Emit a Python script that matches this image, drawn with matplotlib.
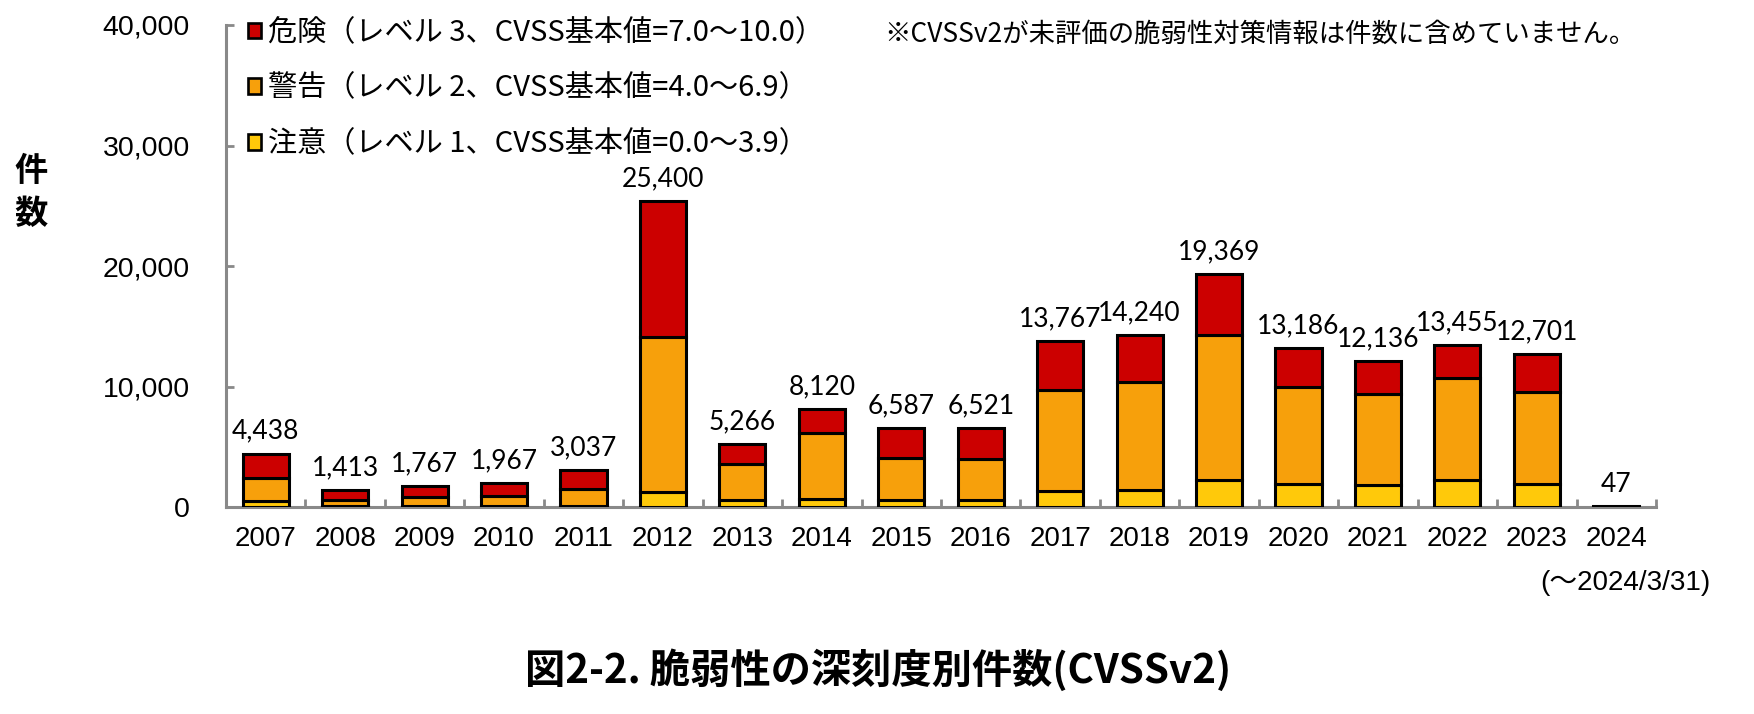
import matplotlib
matplotlib.use("Agg")
import matplotlib.pyplot as plt
from matplotlib.patches import Patch
from matplotlib.ticker import FuncFormatter, FixedLocator

plt.rcParams['font.family'] = ['Liberation Sans', 'Noto Sans CJK JP', 'DejaVu Sans']

years = ['2007', '2008', '2009', '2010', '2011', '2012', '2013', '2014', '2015',
         '2016', '2017', '2018', '2019', '2020', '2021', '2022', '2023', '2024']
caution = [500, 60, 70, 70, 80, 1250, 550, 700, 600, 600, 1300, 1450, 2200, 1900, 1850, 2200, 1900, 2]
warning = [1900, 546, 785, 843, 1390, 12850, 3000, 5400, 3500, 3400, 8450, 8950, 12100, 8100, 7550, 8500, 7650, 30]
danger = [2038, 807, 912, 1054, 1567, 11300, 1716, 2020, 2487, 2521, 4017, 3840, 5069, 3186, 2736, 2755, 3151, 15]
totals = [4438, 1413, 1767, 1967, 3037, 25400, 5266, 8120, 6587, 6521, 13767, 14240, 19369, 13186, 12136, 13455, 12701, 47]

legend_labels = ['危険（レベル 3、CVSS基本値=7.0～10.0）',
                 '警告（レベル 2、CVSS基本値=4.0～6.9）',
                 '注意（レベル 1、CVSS基本値=0.0～3.9）']
note_text = '※CVSSv2が未評価の脆弱性対策情報は件数に含めていません。'
caption = '図2-2. 脆弱性の深刻度別件数(CVSSv2)'
ylabel = '件\n数'
period_note = '(～2024/3/31)'

c_red = '#CC0000'
c_orange = '#F7A00B'
c_yellow = '#FFC90A'
gray = '#898989'

W, H = 1754, 714
fig = plt.figure(figsize=(W / 100, H / 100), dpi=100)
ax = fig.add_axes([226 / W, 1 - 507 / H, (1656 - 226) / W, (507 - 25) / H])

x = list(range(len(years)))
bw = 0.58
lw = 2.2
ax.bar(x, caution, bw, color=c_yellow, edgecolor='black', linewidth=lw, zorder=3)
bottom2 = [a for a in caution]
ax.bar(x, warning, bw, bottom=bottom2, color=c_orange, edgecolor='black', linewidth=lw, zorder=3)
bottom3 = [a + b for a, b in zip(caution, warning)]
ax.bar(x, danger, bw, bottom=bottom3, color=c_red, edgecolor='black', linewidth=lw, zorder=3)

for i, t in enumerate(totals):
    ax.annotate(f'{t:,}', (i, t), xytext=(0, 7), textcoords='offset points',
                ha='center', va='bottom', fontsize=19, family=['Lato', 'DejaVu Sans'])

ax.set_xlim(-0.5, len(years) - 0.5)
ax.set_ylim(0, 40000)
ax.set_yticks([0, 10000, 20000, 30000, 40000])
ax.yaxis.set_major_formatter(FuncFormatter(lambda v, p: f'{v:,.0f}'))
ax.set_xticks(x)
ax.set_xticklabels(years)
ax.xaxis.set_minor_locator(FixedLocator([i + 0.5 for i in range(len(years))]))

for s in ['top', 'right']:
    ax.spines[s].set_visible(False)
for s in ['left', 'bottom']:
    ax.spines[s].set_color(gray)
    ax.spines[s].set_linewidth(2.2)

ax.tick_params(axis='y', direction='in', length=6, width=2, color=gray, labelsize=20.5, pad=26)
ax.tick_params(axis='x', which='major', length=0, labelsize=20, pad=14)
ax.tick_params(axis='x', which='minor', direction='in', length=6, width=2, color=gray)

handles = [Patch(facecolor=c_red, edgecolor='black', linewidth=1.9),
           Patch(facecolor=c_orange, edgecolor='black', linewidth=1.9),
           Patch(facecolor=c_yellow, edgecolor='black', linewidth=1.9)]
fig.legend(handles, legend_labels, loc='upper left', bbox_to_anchor=(248 / W, 1 - 18 / H),
           frameon=False, handlelength=0.45, handleheight=0.45,
           handletextpad=0.25, labelspacing=0.88, borderpad=0, borderaxespad=0,
           prop={'family': ['Noto Sans CJK JP', 'DejaVu Sans'], 'size': 21})

fig.text(884 / W, 1 - 34 / H, note_text, ha='left', va='center', fontsize=19,
         family=['Noto Sans CJK JP', 'DejaVu Sans'])
fig.text(31 / W, 1 - 193 / H, ylabel, ha='center', va='center', fontsize=24,
         fontweight='bold', linespacing=1.35, family=['Noto Sans CJK JP', 'DejaVu Sans'])
fig.text(1711 / W, 1 - 583 / H, period_note, ha='right', va='center', fontsize=20,
         family=['Liberation Sans', 'Noto Sans CJK JP', 'DejaVu Sans'])
fig.text(878 / W, 1 - 671 / H, caption, ha='center', va='center', fontsize=29,
         fontweight='bold', family=['Noto Sans CJK JP', 'DejaVu Sans'])

fig.savefig('out.png', dpi=100)
